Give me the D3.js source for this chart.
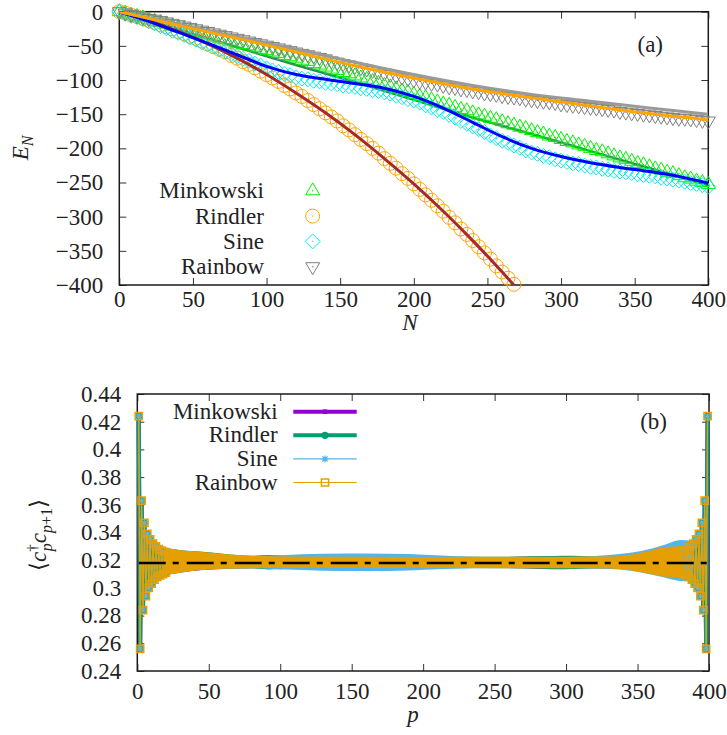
<!DOCTYPE html>
<html>
<head>
<meta charset="utf-8">
<script src="https://cdn.jsdelivr.net/npm/d3@7"></script>
<style>
body { margin: 0; background: #fff; }
.tick line { stroke: #333; stroke-width: 1; }
</style>
</head>
<body>
<svg id="chart" width="727" height="735"></svg>
<script>
// ---------- panel (a): E_N against N ----------
const stepN = d3.range(0, 401, 4);      // marker grid N = 0,4,...,400
const rindlerN = d3.range(0, 269, 4);   // Rindler leaves the range after N = 268

const minkowskiE = [0,-2,-5,-7,-9,-12,-14,-16,-18,-21,-23,
  -25,-28,-30,-32,-34,-37,-39,-41,-43,-46,
  -48,-50,-52,-55,-57,-59,-61,-64,-66,-68,
  -71,-73,-76,-78,-81,-84,-86,-89,-91,-94,
  -97,-99,-102,-105,-108,-110,-113,-116,-118,-121,
  -124,-126,-129,-132,-135,-137,-140,-143,-145,-148,
  -151,-153,-156,-158,-161,-164,-166,-169,-171,-174,
  -177,-179,-182,-184,-187,-190,-192,-195,-197,-200,
  -203,-205,-208,-211,-214,-216,-219,-222,-224,-227,
  -230,-232,-235,-237,-240,-243,-245,-248,-250,-253];
const rindlerE = [0,-2,-5,-7,-10,-13,-16,-19,-22,-25,
  -29,-32,-36,-39,-43,-47,-51,-55,-59,-64,
  -68,-73,-77,-82,-87,-92,-97,-102,-108,-113,
  -119,-124,-130,-136,-142,-148,-154,-160,-167,-173,
  -180,-187,-193,-200,-207,-215,-222,-229,-237,-244,
  -252,-260,-268,-276,-284,-292,-301,-309,-318,-326,
  -335,-344,-353,-362,-372,-381,-390,-399];
const sineE = [0,-3,-6,-8,-11,-14,
  -17,-21,-24,-28,-31, -34,-38,-41,-45,-48,
  -51,-55,-58,-62,-65, -69,-72,-76,-79,-83,
  -86,-88,-91,-93,-96, -98,-99,-101,-102,-104,
  -105,-106,-108,-109,-110, -112,-113,-115,-116,-118,
  -120,-123,-125,-128,-130, -133,-137,-140,-144,-147,
  -151,-155,-160,-164,-168, -172,-176,-181,-185,-189,
  -192,-196,-199,-203,-206, -208,-211,-213,-216,-218,
  -220,-222,-223,-225,-227, -228,-230,-231,-233,-234,
  -235,-236,-238,-239,-240, -241,-243,-244,-246,-247,
  -249,-251,-252,-254,-256];
const rainbowE = [0,-2,-4,-6,-8,-10,-11,-13,-15,-17,-19,
  -21,-23,-25,-27,-29,-31,-33,-35,-37,-39,
  -41,-43,-45,-47,-49,-51,-53,-55,-57,-59,
  -61,-63,-65,-67,-69,-72,-74,-76,-78,-80,
  -82,-84,-86,-88,-90,-92,-94,-96,-98,-100,
  -102,-103,-105,-106,-108,-110,-111,-113,-114,-116,
  -117,-119,-120,-121,-123,-124,-125,-126,-128,-129,
  -130,-131,-132,-133,-135,-136,-137,-138,-139,-140,
  -141,-142,-143,-144,-146,-147,-148,-149,-150,-151,
  -152,-153,-154,-155,-156,-156,-157,-158,-159,-160];

// solid curves
const curveN = [0, 40, 80, 120, 160, 200, 240, 280, 320, 360, 400];
const minkowskiCurve = [0, -26, -52, -78, -103, -129, -155, -179, -204, -229, -254];
const grayCurve = [0, -18, -37, -55, -74, -92, -108, -121, -131, -141, -150];
const orangeCurve = [0, -20, -39, -59, -79, -97, -113, -126, -138, -149, -158];
const sineCurveN = d3.range(0, 401, 20);
const sineCurve = [0,-14,-30,-46,-63,-80,-92,-99,-105,-112,-124,-141,-162,-183,-200,-212,-221,-228,-234,-241,-251];
const rindlerCurveN = [0,20,40,60,80,100,120,140,160,180,200,220,240,260,280];
const rindlerCurve = [0,-13,-29,-47,-68,-92,-119,-148,-180,-215,-252,-292,-335,-381,-430];

const xTicksA = [0, 50, 100, 150, 200, 250, 300, 350, 400];
const yTicksA = [0, -50, -100, -150, -200, -250, -300, -350, -400];
const legendNames = ["Minkowski", "Rindler", "Sine", "Rainbow"];

// ---------- panel (b): <c+_p c_p+1> against p ----------
const edgeP = d3.range(1, 21);   // p = 1..20, the right end mirrors it (p -> 400 - p)
const edgeCorr = [0.424,0.256,0.363,0.284,0.347,0.294,0.339,0.300,0.335,0.303,
                  0.332,0.306,0.330,0.308,0.328,0.309,0.327,0.310,0.326,0.311];
const bulkValue = 0.318;
// away from the ends the even/odd oscillation fills a band: [p, low, high]
const minkowskiBand = [[19,.3095,.3285],[30,.3112,.3268],[44,.3130,.3256],[60,.3138,.3242],[80,.3143,.3226],
  [100,.3134,.3234],[115,.3143,.3224],[200,.3145,.3222],[250,.3145,.3222],[300,.3134,.3230],[315,.3145,.3222],
  [340,.3141,.3226],[360,.3120,.3248],[381,.3088,.3280]];
const rindlerBand = [[19,.3092,.3290],[30,.3110,.3272],[44,.3128,.3262],[60,.3137,.3246],[80,.3140,.3232],
  [92,.3133,.3238],[105,.3140,.3228],[150,.3142,.3225],[250,.3142,.3225],[290,.3137,.3230],[305,.3136,.3232],
  [320,.3140,.3227],[345,.3134,.3234],[360,.3117,.3252],[381,.3085,.3288]];
const sineBand = [[19,.3095,.3288],[44,.3131,.3258],[80,.3142,.3230],[100,.3134,.3236],[130,.3124,.3246],
  [160,.3122,.3248],[190,.3126,.3244],[220,.3138,.3230],[250,.3145,.3222],[300,.3143,.3224],[330,.3136,.3238],
  [345,.3124,.3254],[360,.3095,.3285],[370,.3072,.3315],[380,.3050,.3345],[388,.3048,.3340]];
const rainbowBand = [[19,.3093,.3290],[30,.3110,.3272],[44,.3129,.3261],[60,.3138,.3245],[80,.3142,.3232],
  [100,.3143,.3226],[200,.3143,.3224],[300,.3142,.3225],[330,.3140,.3226],[345,.3128,.3240],[360,.3098,.3272],
  [370,.3080,.3295],[381,.3078,.3300]];

const xTicksB = [0, 50, 100, 150, 200, 250, 300, 350, 400];
const yTicksB = [0.24, 0.26, 0.28, 0.3, 0.32, 0.34, 0.36, 0.38, 0.4, 0.42, 0.44];

// ------------------------------------------------------------
const svg = d3.select("#chart");

// every label is made here, with its face set straight away
function label(parent, x, y, str, anchor, italic) {
  return parent.append("text")
    .style("font-family", '"Liberation Serif"')
    .style("font-size", "23px")
    .style("font-style", italic ? "italic" : "normal")
    .style("fill", "#222")
    .attr("x", x).attr("y", y).attr("text-anchor", anchor).text(str);
}

function drawAxes(x, y, box, xTicks, yTicks, yFmt, xPad) {
  const k = -7;
  const face = g => g.selectAll("text")
    .style("font-family", '"Liberation Serif"').style("font-size", "23px").style("fill", "#222");
  svg.append("g").attr("transform", `translate(0,${box.b})`)
    .call(d3.axisBottom(x).tickValues(xTicks).tickSizeInner(k).tickSizeOuter(0).tickPadding(xPad)).call(face);
  svg.append("g").attr("transform", `translate(0,${box.t})`)
    .call(d3.axisTop(x).tickValues(xTicks).tickSizeInner(k).tickSizeOuter(0).tickFormat(""));
  svg.append("g").attr("transform", `translate(${box.l},0)`)
    .call(d3.axisLeft(y).tickValues(yTicks).tickSizeInner(k).tickSizeOuter(0).tickPadding(16).tickFormat(yFmt)).call(face);
  svg.append("g").attr("transform", `translate(${box.r},0)`)
    .call(d3.axisRight(y).tickValues(yTicks).tickSizeInner(k).tickSizeOuter(0).tickFormat(""));
  svg.selectAll(".domain").remove();
  svg.append("rect").attr("x", box.l).attr("y", box.t)
    .attr("width", box.r - box.l).attr("height", box.b - box.t)
    .attr("fill", "none").attr("stroke", "#1a1a1a").attr("stroke-width", 1.5);
}

const shapes = {
  up: "M0,-8L7,4L-7,4Z",
  down: "M0,8L7,-4L-7,-4Z",
  circle: "M7,0A7,7 0 1,1 -7,0A7,7 0 1,1 7,0Z",
  diamond: "M0,-7.5L7.5,0L0,7.5L-7.5,0Z"
};

function openMarkers(g, pts, shape, color) {
  const m = g.append("g").selectAll("g").data(pts).join("g")
    .attr("transform", d => `translate(${d[0]},${d[1]})`);
  m.append("path").attr("d", shape).attr("fill", "none").attr("stroke", color).attr("stroke-width", 1);
  m.append("rect").attr("x", -0.6).attr("y", -0.6).attr("width", 1.2).attr("height", 1.2).attr("fill", color);
}

// ================= panel (a) =================
const boxA = {l: 119.3, r: 708.3, t: 11.7, b: 285};
const xA = d3.scaleLinear().domain([0, 400]).range([boxA.l, boxA.r]);
const yA = d3.scaleLinear().domain([-400, 0]).range([boxA.b, boxA.t]);

svg.append("clipPath").attr("id", "clipA").append("rect")
  .attr("x", boxA.l).attr("y", boxA.t).attr("width", boxA.r - boxA.l).attr("height", boxA.b - boxA.t);

drawAxes(xA, yA, boxA, xTicksA, yTicksA, d3.format("d"), 6);

const lineA = d3.line().x(d => xA(d[0])).y(d => yA(d[1])).curve(d3.curveMonotoneX);
const gUnder = svg.append("g").attr("clip-path", "url(#clipA)");
const gA = svg.append("g");
const gCurves = svg.append("g").attr("clip-path", "url(#clipA)");

// the Minkowski curve sits under the markers, the others on top
gUnder.append("path").attr("d", lineA(curveN.map((n, i) => [n, minkowskiCurve[i]])))
  .attr("fill", "none").attr("stroke", "#2e8b57").attr("stroke-width", 2.5);

const markerSets = [
  {n: stepN, e: minkowskiE, shape: shapes.up, color: "#00ee00"},
  {n: rindlerN, e: rindlerE, shape: shapes.circle, color: "#ffa500"},
  {n: stepN, e: sineE, shape: shapes.diamond, color: "#00eeee"},
  {n: stepN, e: rainbowE, shape: shapes.down, color: "#808080"}
];
markerSets.forEach(s => openMarkers(gA, s.n.map((n, i) => [xA(n), yA(s.e[i])]), s.shape, s.color));

const curvesA = [
  {n: rindlerCurveN, e: rindlerCurve, color: "#a52a2a", w: 3},
  {n: sineCurveN, e: sineCurve, color: "#0000ff", w: 3},
  {n: curveN, e: grayCurve, color: "#9a9a9a", w: 3},
  {n: curveN, e: orangeCurve, color: "#ffa500", w: 3}
];
curvesA.forEach(c => {
  gCurves.append("path").attr("d", lineA(c.n.map((n, i) => [n, c.e[i]])))
    .attr("fill", "none").attr("stroke", c.color).attr("stroke-width", c.w);
});

// legend (a)
legendNames.forEach((name, i) => {
  const cy = 190.8 + i * 25.3;
  label(svg, 264, cy + 7.5, name, "end", false);
  openMarkers(svg, [[312.7, cy]], markerSets[i].shape, markerSets[i].color);
});
label(svg, 663, 52, "(a)", "end", false);
label(svg, 410, 330, "N", "middle", true);

const eLab = label(svg, 0, 0, "", "middle", false).attr("transform", "translate(28,148) rotate(-90)");
eLab.append("tspan").style("font-style", "italic").text("E");
eLab.append("tspan").style("font-style", "italic").style("font-size", "16px").attr("dy", 5).text("N");

// ================= panel (b) =================
const boxB = {l: 137.3, r: 709, t: 394, b: 671};
const xB = d3.scaleLinear().domain([0, 400]).range([boxB.l, boxB.r]);
const yB = d3.scaleLinear().domain([0.24, 0.44]).range([boxB.b, boxB.t]);

drawAxes(xB, yB, boxB, xTicksB, yTicksB, d => String(+d.toFixed(2)), 11.5);

const seriesB = [
  {name: "Minkowski", band: minkowskiBand, color: "#9400d3", w: 4, mark: "dot"},
  {name: "Rindler", band: rindlerBand, color: "#009e73", w: 4, mark: "disc"},
  {name: "Sine", band: sineBand, color: "#56b4e9", w: 1.2, mark: "star"},
  {name: "Rainbow", band: rainbowBand, color: "#e69f00", w: 1.2, mark: "square"}
];

function markB(g, pts, s) {
  const m = g.append("g").selectAll("g").data(pts).join("g")
    .attr("transform", d => `translate(${d[0]},${d[1]})`);
  if (s.mark === "dot") m.append("rect").attr("x", -2.3).attr("y", -2.3).attr("width", 4.6).attr("height", 4.6).attr("fill", s.color);
  if (s.mark === "disc") m.append("circle").attr("r", 3.6).attr("fill", s.color);
  if (s.mark === "star") m.append("path").attr("d", "M-3.5,0H3.5M0,-3.5V3.5M-2.6,-2.6L2.6,2.6M-2.6,2.6L2.6,-2.6")
    .attr("stroke", s.color).attr("stroke-width", 1.2);
  if (s.mark === "square") m.append("path").attr("d", "M-3.6,-3.6h7.2v7.2h-7.2Z")
    .attr("fill", "none").attr("stroke", s.color).attr("stroke-width", 1.5);
}

const areaB = d3.area().x(d => xB(d[0])).y0(d => yB(d[1])).y1(d => yB(d[2])).curve(d3.curveMonotoneX);
const lineB = d3.line().x(d => xB(d[0])).y(d => yB(d[1]));
const leftPts = edgeP.map((p, i) => [p, edgeCorr[i]]);
const rightPts = edgeP.map((p, i) => [400 - p, edgeCorr[i]]).reverse();

const gB = svg.append("g");
seriesB.forEach(s => {
  gB.append("path").attr("d", areaB(s.band)).attr("fill", s.color);
  [leftPts, rightPts].forEach(pts => {
    gB.append("path").attr("d", lineB(pts)).attr("fill", "none")
      .attr("stroke", s.color).attr("stroke-width", s.w).attr("stroke-linejoin", "round");
    markB(gB, pts.map(d => [xB(d[0]), yB(d[1])]), s);
  });
});

gB.append("line").attr("x1", xB(1)).attr("x2", xB(399)).attr("y1", yB(bulkValue)).attr("y2", yB(bulkValue))
  .attr("stroke", "#000").attr("stroke-width", 2.5).attr("stroke-dasharray", "27,7,6,8");

// legend (b)
seriesB.forEach((s, i) => {
  const cy = 411.7 + i * 23.6;
  label(svg, 277.7, cy + 7, s.name, "end", false);
  svg.append("line").attr("x1", 293.3).attr("x2", 356.7).attr("y1", cy).attr("y2", cy)
    .attr("stroke", s.color).attr("stroke-width", s.w);
  markB(svg, [[325, cy]], s);
});
label(svg, 667, 429, "(b)", "end", false);
label(svg, 413, 722, "p", "middle", true);

const cLab = label(svg, 0, 0, "", "middle", false).attr("transform", "translate(46,535) rotate(-90)");
cLab.append("tspan").text("\u27E8");
cLab.append("tspan").style("font-style", "italic").text("c");
cLab.append("tspan").style("font-size", "15px").attr("dy", -9).text("\u2020");
cLab.append("tspan").style("font-style", "italic").style("font-size", "16px").attr("dx", -7).attr("dy", 15).text("p");
cLab.append("tspan").style("font-style", "italic").attr("dy", -6).text("c");
cLab.append("tspan").style("font-style", "italic").style("font-size", "16px").attr("dy", 6).text("p");
cLab.append("tspan").style("font-size", "16px").text("+1");
cLab.append("tspan").attr("dy", -6).text("\u27E9");
</script>
</body>
</html>
